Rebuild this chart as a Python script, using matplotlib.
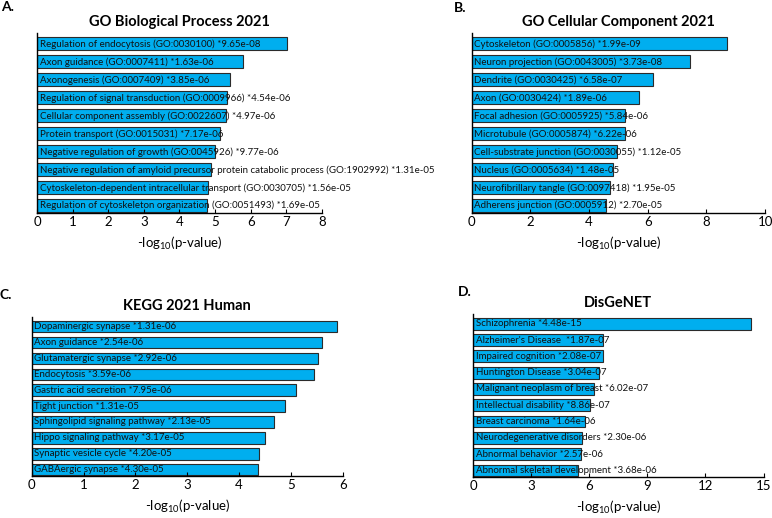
import matplotlib
matplotlib.use("Agg")
import matplotlib.pyplot as plt

plt.rcParams['font.family'] = ['Lato', 'DejaVu Sans']
plt.rcParams['mathtext.fontset'] = 'custom'
plt.rcParams['mathtext.rm'] = 'Lato'
plt.rcParams['mathtext.it'] = 'Lato:italic'
plt.rcParams['mathtext.bf'] = 'Lato:bold'

BAR_COLOR = '#00AEEF'
EDGE_COLOR = '#2b2b2b'

# panel A
bp_terms = [
    "Regulation of endocytosis (GO:0030100) *9.65e-08",
    "Axon guidance (GO:0007411) *1.63e-06",
    "Axonogenesis (GO:0007409) *3.85e-06",
    "Regulation of signal transduction (GO:0009966) *4.54e-06",
    "Cellular component assembly (GO:0022607) *4.97e-06",
    "Protein transport (GO:0015031) *7.17e-06",
    "Negative regulation of growth (GO:0045926) *9.77e-06",
    "Negative regulation of amyloid precursor protein catabolic process (GO:1902992) *1.31e-05",
    "Cytoskeleton-dependent intracellular transport (GO:0030705) *1.56e-05",
    "Regulation of cytoskeleton organization (GO:0051493) *1.69e-05",
]
bp_vals = [7.02, 5.79, 5.41, 5.34, 5.30, 5.14, 5.01, 4.88, 4.81, 4.77]

# panel B
cc_terms = [
    "Cytoskeleton (GO:0005856) *1.99e-09",
    "Neuron projection (GO:0043005) *3.73e-08",
    "Dendrite (GO:0030425) *6.58e-07",
    "Axon (GO:0030424) *1.89e-06",
    "Focal adhesion (GO:0005925) *5.84e-06",
    "Microtubule (GO:0005874) *6.22e-06",
    "Cell-substrate junction (GO:0030055) *1.12e-05",
    "Nucleus (GO:0005634) *1.48e-05",
    "Neurofibrillary tangle (GO:0097418) *1.95e-05",
    "Adherens junction (GO:0005912) *2.70e-05",
]
cc_vals = [8.70, 7.43, 6.18, 5.72, 5.23, 5.21, 4.95, 4.83, 4.71, 4.57]

# panel C
kegg_terms = [
    "Dopaminergic synapse *1.31e-06",
    "Axon guidance *2.54e-06",
    "Glutamatergic synapse *2.92e-06",
    "Endocytosis *3.59e-06",
    "Gastric acid secretion *7.95e-06",
    "Tight junction *1.31e-05",
    "Sphingolipid signaling pathway *2.13e-05",
    "Hippo signaling pathway *3.17e-05",
    "Synaptic vesicle cycle *4.20e-05",
    "GABAergic synapse *4.30e-05",
]
kegg_vals = [5.88, 5.60, 5.53, 5.44, 5.10, 4.88, 4.67, 4.50, 4.38, 4.37]

# panel D
dis_terms = [
    "Schizophrenia *4.48e-15",
    "Alzheimer's Disease  *1.87e-07",
    "Impaired cognition *2.08e-07",
    "Huntington Disease *3.04e-07",
    "Malignant neoplasm of breast *6.02e-07",
    "Intellectual disability *8.86e-07",
    "Breast carcinoma *1.64e-06",
    "Neurodegenerative disorders *2.30e-06",
    "Abnormal behavior *2.57e-06",
    "Abnormal skeletal development *3.68e-06",
]
dis_vals = [14.35, 6.73, 6.68, 6.52, 6.22, 6.05, 5.79, 5.64, 5.59, 5.43]

# letter, title, labels, values, ticks, axes rect, letter position (fig px)
panels = [
    ("A.", "GO Biological Process 2021", bp_terms, bp_vals, [0, 1, 2, 3, 4, 5, 6, 7, 8],
     [0.048, 0.589, 0.369, 0.347], (1, 7)),
    ("B.", "GO Cellular Component 2021", cc_terms, cc_vals, [0, 2, 4, 6, 8, 10],
     [0.611, 0.589, 0.380, 0.347], (454, 8)),
    ("C.", "KEGG 2021 Human", kegg_terms, kegg_vals, [0, 1, 2, 3, 4, 5, 6],
     [0.041, 0.081, 0.403, 0.307], (0, 295)),
    ("D.", "DisGeNET", dis_terms, dis_vals, [0, 3, 6, 9, 12, 15],
     [0.613, 0.079, 0.376, 0.315], (458, 292)),
]

W, H = 772, 518
fig = plt.figure(figsize=(W / 100, H / 100), dpi=100)

for letter, title, terms, vals, ticks, rect, lpos in panels:
    ax = fig.add_axes(rect)
    pos = list(range(len(terms)))
    ax.barh(pos, vals, height=0.72, color=BAR_COLOR, edgecolor=EDGE_COLOR, linewidth=0.8)
    for y, t in zip(pos, terms):
        ax.annotate(t, (0, y), xytext=(2, 0), textcoords='offset points',
                    va='center', ha='left', fontsize=7.0, color='#111111',
                    annotation_clip=False)
    ax.set_ylim(len(terms) - 0.6, -0.6)
    ax.set_xlim(ticks[0], ticks[-1])
    ax.set_xticks(ticks)
    ax.set_yticks([])
    for s in ['top', 'right']:
        ax.spines[s].set_visible(False)
    ax.spines['left'].set_linewidth(1.0)
    ax.spines['bottom'].set_linewidth(1.0)
    ax.tick_params(axis='x', direction='in', length=3, width=0.8, labelsize=9.5, pad=2)
    ax.set_xlabel('-log$_{10}$(p-value)', fontsize=9.5, labelpad=5)
    ax.set_title(title, fontsize=10.5, fontweight='bold', pad=5)
    fig.text(lpos[0] / W, 1 - lpos[1] / H, letter, fontsize=10,
             fontweight='bold', ha='left', va='center')

fig.savefig('out.png', dpi=100)
